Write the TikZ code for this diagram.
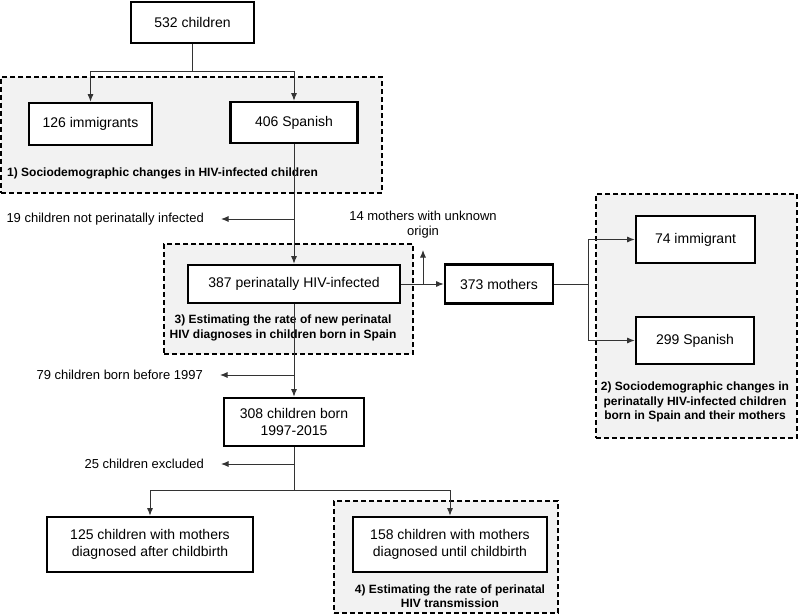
\documentclass[tikz,border=0pt]{standalone}
\usepackage{fontspec}
\setmainfont{Liberation Sans}
\usetikzlibrary{arrows.meta,positioning}

\begin{document}
\begin{tikzpicture}[x=1pt,y=-1pt,
  box/.style={draw, line width=2.7pt, fill=white, inner sep=0pt, align=center, font=\fontsize{14}{17}\selectfont},
  grp/.style={draw, dash pattern=on 5pt off 3pt, line width=1.4pt, fill=gray!10, inner sep=0pt},
  side/.style={inner xsep=17pt, inner ysep=0pt, font=\fontsize{13}{15}\selectfont},
  lbl/.style={inner sep=0pt, align=center, font=\fontsize{12}{14.5}\selectfont\bfseries},
  ln/.style={line width=0.9pt, draw=black!80},
  arr/.style={ln, -{Latex[length=7.5pt,width=6pt]}}]
  \useasboundingbox (0,0) rectangle (800,615);

  % study groups
  \node[grp, minimum width=381pt, minimum height=116pt] at (191.5,135) (g1) {};
  \node[grp, minimum width=249pt, minimum height=110pt] at (288.5,299) (g3) {};
  \node[grp, minimum width=201pt, minimum height=244pt] at (696.5,316) (g2) {};
  \node[grp, minimum width=224pt, minimum height=112pt] at (446,557) (g4) {};

  % children
  \node[box, minimum width=123pt, minimum height=41pt] at (192.5,22.5) (c532) {532 children};
  \node[box, minimum width=123pt, minimum height=42pt] at (90.5,124) (c126) {126 immigrants};
  \node[box, minimum width=127pt, minimum height=41pt] at (294,122.5) (c406) {406 Spanish};
  \node[box, minimum width=212pt, minimum height=38pt] at (294,284) (c387) {387 perinatally HIV-infected};
  \node[box, minimum width=140pt, minimum height=48pt] at (294,422) (c308) {308 children born\\1997-2015};
  \node[box, minimum width=206pt, minimum height=55pt] at (150,544.5) (c125) {125 children with mothers\\diagnosed after childbirth};
  \node[box, minimum width=194pt, minimum height=55pt] at (450,544.5) (c158) {158 children with mothers\\diagnosed until childbirth};

  % mothers
  \node[box, minimum width=108pt, minimum height=39pt] at (499,284) (m373) {373 mothers};
  \node[box, minimum width=119pt, minimum height=47pt] at (695.5,239.5) (m74) {74 immigrant};
  \node[box, minimum width=118pt, minimum height=47pt] at (695,340.5) (s299) {299 Spanish};

  % excluded
  \node[side, anchor=east] at (221,219) (t19) {19 children not perinatally infected};
  \node[side, anchor=east] at (220,375) (t79) {79 children born before 1997};
  \node[side, anchor=east] at (221,464) (t25) {25 children excluded};
  \node[side, align=center, anchor=south, inner ysep=12pt] at (423,250) (t14) {14 mothers with unknown\\origin};

  % group labels
  \node[lbl, anchor=west] at (7,173) (l1) {1) Sociodemographic changes in HIV-infected children};
  \node[lbl] at (283,328) (l3) {3) Estimating the rate of new perinatal\\HIV diagnoses in children born in Spain};
  \node[lbl] at (695,402) (l2) {2) Sociodemographic changes in\\perinatally HIV-infected children\\born in Spain and their mothers};
  \node[lbl] at (450,596) (l4) {4) Estimating the rate of perinatal\\HIV transmission};

  \coordinate (j1) at (192.5,71);
  \coordinate (j2) at (588,284);
  \coordinate (j3) at (294,490);

  \draw[ln] (c532.south) -- (j1);
  \draw[arr] (j1) -| (c126.north);
  \draw[arr] (j1) -| (c406.north);
  \draw[arr] (c406.south) -- (c387.north);
  \draw[arr] (c406.south |- t19.east) -- (t19.east);
  \draw[arr] (c387.south) -- (c308.north);
  \draw[arr] (c387.south |- t79.east) -- (t79.east);
  \draw[ln] (c308.south) -- (j3);
  \draw[arr] (c308.south |- t25.east) -- (t25.east);
  \draw[arr] (j3) -| (c125.north);
  \draw[arr] (j3) -| (c158.north);
  \draw[arr] (c387.east) -- (m373.west);
  \draw[arr] (t14.south |- c387.east) -- (t14.south);
  \draw[ln] (m373.east) -- (j2);
  \draw[arr] (j2) |- (m74.west);
  \draw[arr] (j2) |- (s299.west);
\end{tikzpicture}
\end{document}
